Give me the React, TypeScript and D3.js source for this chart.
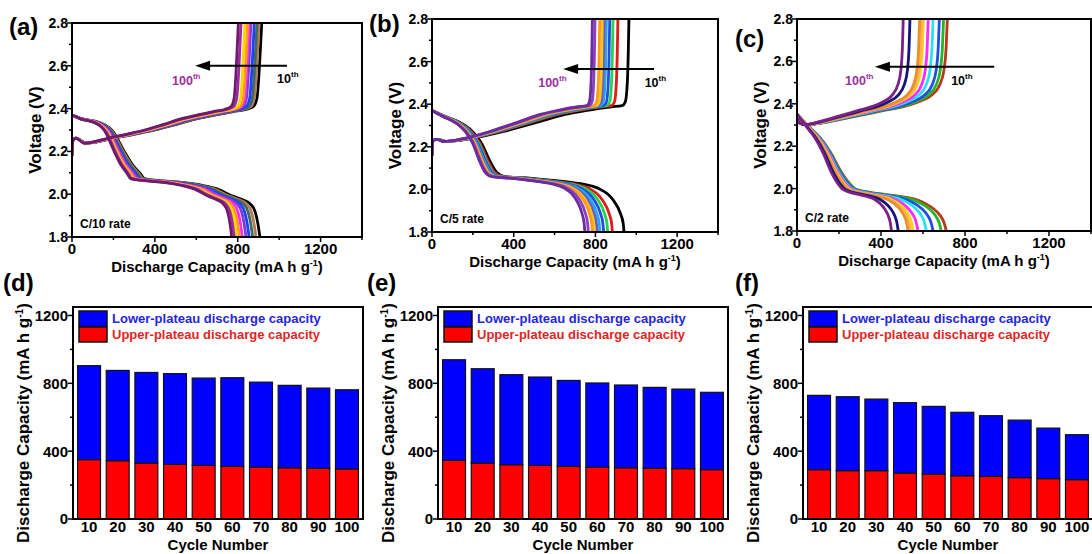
import React, { useEffect, useRef } from 'react';
import * as d3 from 'd3';

const FONT = "Arial, 'Liberation Sans', Helvetica, sans-serif";
const W = 1092;
const H = 554;

const cycles = [10, 20, 30, 40, 50, 60, 70, 80, 90, 100];
const voltTicks = [1.8, 2.0, 2.2, 2.4, 2.6, 2.8];
const capTicks = [0, 400, 800, 1200];
const barTicks = [0, 400, 800, 1200];

// ---- (a) C/10 : 10th-cycle curve shapes [capacity, voltage]
const aDisShape: [number, number][] = [
  [0, 2.37], [50, 2.352], [135, 2.334], [180, 2.31], [200, 2.29], [248, 2.207], [290, 2.14],
  [328, 2.098], [350, 2.073], [400, 2.066], [500, 2.058], [618, 2.043], [700, 2.025],
  [778, 1.99], [827, 1.973], [860, 1.955], [884, 1.918], [898, 1.86], [907, 1.8],
];
const aChgShape: [number, number][] = [
  [0, 2.18], [4, 2.25], [20, 2.262], [70, 2.238], [120, 2.244], [183, 2.258], [300, 2.28],
  [400, 2.3], [500, 2.325], [600, 2.352], [700, 2.372], [778, 2.386], [840, 2.396], [876, 2.41],
  [893, 2.45], [902, 2.55], [909, 2.67], [916, 2.8],
];
const aDisEnd = [907, 888, 872, 855, 840, 822, 808, 795, 783, 771];
const aDisPivot = [350, 343, 335, 325, 318, 310, 303, 296, 290, 283];
const aChgEnd = [916, 903, 893, 880, 864, 855, 848, 835, 816, 803];
const aColors = ['#000000', '#b07a55', '#3f6b5a', '#1f3fff', '#7a3fd0', '#ff2bff', '#ff9a1a', '#ffd400', '#a2289e', '#6e1a6e'];

// ---- (b) C/5
const bDisShape: [number, number][] = [
  [0, 2.37], [60, 2.345], [162, 2.3], [200, 2.27], [243, 2.216], [280, 2.14], [317, 2.08],
  [357, 2.06], [488, 2.052], [651, 2.036], [740, 2.025], [814, 2.005], [860, 1.978],
  [887, 1.95], [922, 1.888], [936, 1.84], [940, 1.8],
];
const bChgShape: [number, number][] = [
  [0, 2.16], [5, 2.23], [30, 2.235], [70, 2.225], [150, 2.232], [250, 2.25], [350, 2.272],
  [450, 2.298], [550, 2.325], [650, 2.352], [750, 2.37], [879, 2.388], [930, 2.393],
  [946, 2.41], [956, 2.5], [961, 2.65], [964, 2.8],
];
const bDisEnd = [940, 883, 860, 840, 822, 808, 795, 785, 765, 748];
const bDisPivot = [357, 345, 336, 330, 322, 316, 310, 305, 299, 293];
const bChgEnd = [964, 910, 886, 870, 854, 843, 834, 821, 798, 785];
const bColors = ['#000000', '#e01b1b', '#27d34a', '#1f4fe0', '#2aa2ff', '#6060c0', '#ffc21a', '#ff9a1a', '#8e3fc0', '#6a2ca0'];

// ---- (c) C/2
const cDisShape: [number, number][] = [
  [0, 2.35], [30, 2.32], [70, 2.28], [110, 2.24], [160, 2.17], [210, 2.08], [250, 2.025],
  [285, 1.995], [400, 1.975], [500, 1.962], [560, 1.95], [610, 1.93], [650, 1.905],
  [680, 1.875], [700, 1.84], [711, 1.8],
];
const cChgShape: [number, number][] = [
  [0, 2.33], [15, 2.31], [50, 2.302], [120, 2.31], [200, 2.325], [300, 2.345], [420, 2.37],
  [520, 2.39], [580, 2.41], [640, 2.44], [680, 2.49], [700, 2.56], [710, 2.66], [716, 2.8],
];
const cDisEnd = [711, 687, 648, 616, 576, 553, 540, 529, 482, 450];
const cDisPivot = [285, 280, 275, 268, 262, 255, 250, 245, 232, 220];
const cChgEnd = [716, 698, 678, 648, 625, 602, 594, 584, 538, 506];
const cColors = ['#b53a1a', '#25b525', '#1f4fe0', '#27e0ff', '#ff2bff', '#ffd21a', '#ffb050', '#e8902a', '#15157a', '#7a2088'];

// ---- bars (d) (e) (f)
const dTotal = [904, 876, 864, 857, 831, 833, 807, 788, 772, 762];
const dUpper = [350, 344, 330, 322, 316, 310, 306, 302, 299, 295];
const eTotal = [939, 886, 851, 837, 817, 802, 790, 776, 766, 747];
const eUpper = [346, 330, 320, 316, 310, 306, 302, 299, 297, 291];
const fTotal = [729, 721, 707, 686, 664, 629, 609, 583, 536, 497];
const fUpper = [291, 285, 285, 271, 265, 255, 251, 244, 238, 232];

const topPanels = [
  {
    id: 'a', label: '(a)', lx: 9, ly: 35, rate: 'C/10 rate', left: 72, right: 362, top: 23, bottom: 237,
    dis: aDisShape, chg: aChgShape, disEnd: aDisEnd, disPivot: aDisPivot, chgEnd: aChgEnd, colors: aColors,
    arrow: [1038, 594, 2.6], t100: [483, 2.51], t10: [990, 2.52],
  },
  {
    id: 'b', label: '(b)', lx: 369, ly: 32, rate: 'C/5 rate', left: 432, right: 718, top: 19, bottom: 232,
    dis: bDisShape, chg: bChgShape, disEnd: bDisEnd, disPivot: bDisPivot, chgEnd: bChgEnd, colors: bColors,
    arrow: [1087, 642, 2.565], t100: [520, 2.48], t10: [1041, 2.48],
  },
  {
    id: 'c', label: '(c)', lx: 735, ly: 47, rate: 'C/2 rate', left: 797, right: 1091, top: 19, bottom: 231,
    dis: cDisShape, chg: cChgShape, disEnd: cDisEnd, disPivot: cDisPivot, chgEnd: cChgEnd, colors: cColors,
    arrow: [939, 371, 2.575], t100: [229, 2.49], t10: [734, 2.49],
  },
];

const barPanels = [
  { id: 'd', label: '(d)', lx: 3, ly: 291, left: 73, right: 363, top: 307, bottom: 519, total: dTotal, upper: dUpper },
  { id: 'e', label: '(e)', lx: 367, ly: 291, left: 438, right: 728, top: 307, bottom: 519, total: eTotal, upper: eUpper },
  { id: 'f', label: '(f)', lx: 735, ly: 291, left: 803, right: 1093, top: 307, bottom: 519, total: fTotal, upper: fUpper },
];

function warpDischarge(shape: [number, number][], pivot: number, end: number, pivotT: number) {
  const endT = shape[shape.length - 1][0];
  return shape.map(([c, v]) => [
    c <= pivotT ? (c * pivot) / pivotT : pivot + ((c - pivotT) * (end - pivot)) / (endT - pivotT),
    v,
  ] as [number, number]);
}

function scaleCharge(shape: [number, number][], end: number) {
  const endT = shape[shape.length - 1][0];
  return shape.map(([c, v]) => [(c * end) / endT, v] as [number, number]);
}

function capTitle(sel: any, size: number) {
  sel.append('tspan').text('Discharge Capacity (mA h g');
  sel.append('tspan').attr('font-size', size * 0.6).attr('dy', -size * 0.38).text('-1');
  sel.append('tspan').attr('dy', size * 0.38).text(')');
}

function drawCurvePanel(svg: any, p: any) {
  const x = d3.scaleLinear().domain([0, 1400]).range([p.left, p.right]);
  const y = d3.scaleLinear().domain([1.8, 2.8]).range([p.bottom, p.top]);
  const g = svg.append('g');
  const clipId = 'clip-' + p.id;
  svg.append('defs').append('clipPath').attr('id', clipId).append('rect')
    .attr('x', p.left).attr('y', p.top).attr('width', p.right - p.left).attr('height', p.bottom - p.top);

  const line = d3.line<[number, number]>().x((d) => x(d[0])).y((d) => y(d[1])).curve(d3.curveMonotoneX);
  const cg = g.append('g').attr('clip-path', `url(#${clipId})`);
  const pivotT = p.disPivot[0];
  cycles.forEach((_, i) => {
    const dis = warpDischarge(p.dis, p.disPivot[i], p.disEnd[i], pivotT);
    const chg = scaleCharge(p.chg, p.chgEnd[i]);
    cg.append('path').attr('d', line(dis)).attr('fill', 'none').attr('stroke', p.colors[i])
      .attr('stroke-width', 2.8).attr('stroke-linejoin', 'round');
    cg.append('path').attr('d', line(chg)).attr('fill', 'none').attr('stroke', p.colors[i])
      .attr('stroke-width', 2.8).attr('stroke-linejoin', 'round');
  });

  // frame
  g.append('rect').attr('x', p.left).attr('y', p.top).attr('width', p.right - p.left)
    .attr('height', p.bottom - p.top).attr('fill', 'none').attr('stroke', '#000').attr('stroke-width', 2);

  // y ticks
  y.ticks(10).forEach((t) => {
    const major = voltTicks.some((m) => Math.abs(m - t) < 1e-6);
    g.append('line').attr('x1', p.left).attr('x2', p.left - (major ? 5 : 3)).attr('y1', y(t)).attr('y2', y(t))
      .attr('stroke', '#000').attr('stroke-width', 1.5);
  });
  voltTicks.forEach((t) => {
    g.append('text').attr('x', p.left - 4).attr('y', y(t)).attr('dy', '0.36em').attr('text-anchor', 'end')
      .attr('font-family', FONT).attr('font-weight', 'bold').attr('font-size', 14).text(t.toFixed(1));
  });
  // x ticks
  d3.range(0, 1401, 200).forEach((t) => {
    const major = capTicks.includes(t);
    g.append('line').attr('x1', x(t)).attr('x2', x(t)).attr('y1', p.bottom).attr('y2', p.bottom + (major ? 5 : 3))
      .attr('stroke', '#000').attr('stroke-width', 1.5);
  });
  capTicks.forEach((t) => {
    g.append('text').attr('x', x(t)).attr('y', p.bottom + 17).attr('text-anchor', 'middle')
      .attr('font-family', FONT).attr('font-weight', 'bold').attr('font-size', 15).text(String(t));
  });
  // titles
  const xt = g.append('text').attr('x', (p.left + p.right) / 2).attr('y', p.bottom + 35).attr('text-anchor', 'middle')
    .attr('font-family', FONT).attr('font-weight', 'bold').attr('font-size', 15);
  capTitle(xt, 15);
  g.append('text').attr('transform', `translate(${p.left - 31},${(p.top + p.bottom) / 2}) rotate(-90)`)
    .attr('text-anchor', 'middle').attr('font-family', FONT).attr('font-weight', 'bold').attr('font-size', 17)
    .text('Voltage (V)');

  // rate label
  g.append('text').attr('x', p.left + 8).attr('y', p.bottom - 9).attr('font-family', FONT)
    .attr('font-weight', 'bold').attr('font-size', 12).text(p.rate);

  // arrow
  const [ax0, ax1, av] = p.arrow;
  g.append('line').attr('x1', x(ax0)).attr('x2', x(ax1) + 12).attr('y1', y(av)).attr('y2', y(av))
    .attr('stroke', '#000').attr('stroke-width', 2);
  g.append('path')
    .attr('d', `M${x(ax1)},${y(av)} L${x(ax1) + 15},${y(av) - 5} L${x(ax1) + 15},${y(av) + 5} Z`)
    .attr('fill', '#000');
  const t100 = g.append('text').attr('x', x(p.t100[0])).attr('y', y(p.t100[1])).attr('font-family', FONT)
    .attr('font-weight', 'bold').attr('font-size', 12.5).attr('fill', '#9b2f9b');
  t100.append('tspan').text('100');
  t100.append('tspan').attr('font-size', 8).attr('dy', -6).text('th');
  const t10 = g.append('text').attr('x', x(p.t10[0])).attr('y', y(p.t10[1])).attr('font-family', FONT)
    .attr('font-weight', 'bold').attr('font-size', 12.5).attr('fill', '#000');
  t10.append('tspan').text('10');
  t10.append('tspan').attr('font-size', 8).attr('dy', -6).text('th');

  svg.append('text').attr('x', p.lx).attr('y', p.ly).attr('font-family', FONT).attr('font-weight', 'bold')
    .attr('font-size', 24).text(p.label);
}

function drawBarPanel(svg: any, p: any) {
  const x = d3.scaleBand<string>().domain(cycles.map(String)).range([p.left, p.right]).paddingInner(0.2).paddingOuter(0.16);
  const y = d3.scaleLinear().domain([0, 1250]).range([p.bottom, p.top]);
  const g = svg.append('g');
  const rows = cycles.map((c, i) => ({ cycle: String(c), upper: p.upper[i], lower: p.total[i] - p.upper[i] }));
  const series = d3.stack<any>().keys(['upper', 'lower'])(rows);
  const fills: Record<string, string> = { upper: '#ff0000', lower: '#0000ff' };
  series.forEach((s: any) => {
    g.append('g').selectAll('rect').data(s).join('rect')
      .attr('x', (d: any) => x(d.data.cycle))
      .attr('width', x.bandwidth())
      .attr('y', (d: any) => y(d[1]))
      .attr('height', (d: any) => y(d[0]) - y(d[1]))
      .attr('fill', fills[s.key]).attr('stroke', '#111').attr('stroke-width', 1.2);
  });

  g.append('rect').attr('x', p.left).attr('y', p.top).attr('width', p.right - p.left)
    .attr('height', p.bottom - p.top).attr('fill', 'none').attr('stroke', '#000').attr('stroke-width', 2);

  d3.range(0, 1201, 200).forEach((t) => {
    const major = barTicks.includes(t);
    g.append('line').attr('x1', p.left).attr('x2', p.left - (major ? 5 : 3)).attr('y1', y(t)).attr('y2', y(t))
      .attr('stroke', '#000').attr('stroke-width', 1.5);
  });
  barTicks.forEach((t) => {
    g.append('text').attr('x', p.left - 5).attr('y', y(t)).attr('dy', '0.36em').attr('text-anchor', 'end')
      .attr('font-family', FONT).attr('font-weight', 'bold').attr('font-size', 15).text(String(t));
  });
  cycles.forEach((c) => {
    g.append('text').attr('x', (x(String(c)) as number) + x.bandwidth() / 2).attr('y', p.bottom + 13)
      .attr('text-anchor', 'middle').attr('font-family', FONT).attr('font-weight', 'bold').attr('font-size', 15)
      .text(String(c));
  });
  g.append('text').attr('x', (p.left + p.right) / 2).attr('y', p.bottom + 31).attr('text-anchor', 'middle')
    .attr('font-family', FONT).attr('font-weight', 'bold').attr('font-size', 15).text('Cycle Number');
  const yt = g.append('text').attr('transform', `translate(${p.left - 44},${(p.top + p.bottom) / 2 + 10}) rotate(-90)`)
    .attr('text-anchor', 'middle').attr('font-family', FONT).attr('font-weight', 'bold').attr('font-size', 17);
  capTitle(yt, 17);

  // legend
  g.append('rect').attr('x', p.left + 6).attr('y', p.top + 4).attr('width', 28).attr('height', 15.5)
    .attr('fill', '#0000ff').attr('stroke', '#111').attr('stroke-width', 1.5);
  g.append('rect').attr('x', p.left + 6).attr('y', p.top + 20).attr('width', 28).attr('height', 15)
    .attr('fill', '#ff0000').attr('stroke', '#111').attr('stroke-width', 1.5);
  g.append('text').attr('x', p.left + 39).attr('y', p.top + 16).attr('font-family', FONT).attr('font-weight', 'bold')
    .attr('font-size', 13).attr('fill', '#2424e6').text('Lower-plateau discharge capacity');
  g.append('text').attr('x', p.left + 39).attr('y', p.top + 32).attr('font-family', FONT).attr('font-weight', 'bold')
    .attr('font-size', 13).attr('fill', '#e62424').text('Upper-plateau discharge capacity');

  svg.append('text').attr('x', p.lx).attr('y', p.ly).attr('font-family', FONT).attr('font-weight', 'bold')
    .attr('font-size', 24).text(p.label);
}

export default function App() {
  const ref = useRef<SVGSVGElement>(null);
  useEffect(() => {
    const svg = d3.select(ref.current);
    svg.selectAll('*').remove();
    topPanels.forEach((p) => drawCurvePanel(svg, p));
    barPanels.forEach((p) => drawBarPanel(svg, p));
  }, []);
  return (
    <div style={{ position: 'absolute', left: 0, top: 0 }}>
      <svg ref={ref} width={W} height={H} style={{ display: 'block', background: '#fff' }} />
    </div>
  );
}
